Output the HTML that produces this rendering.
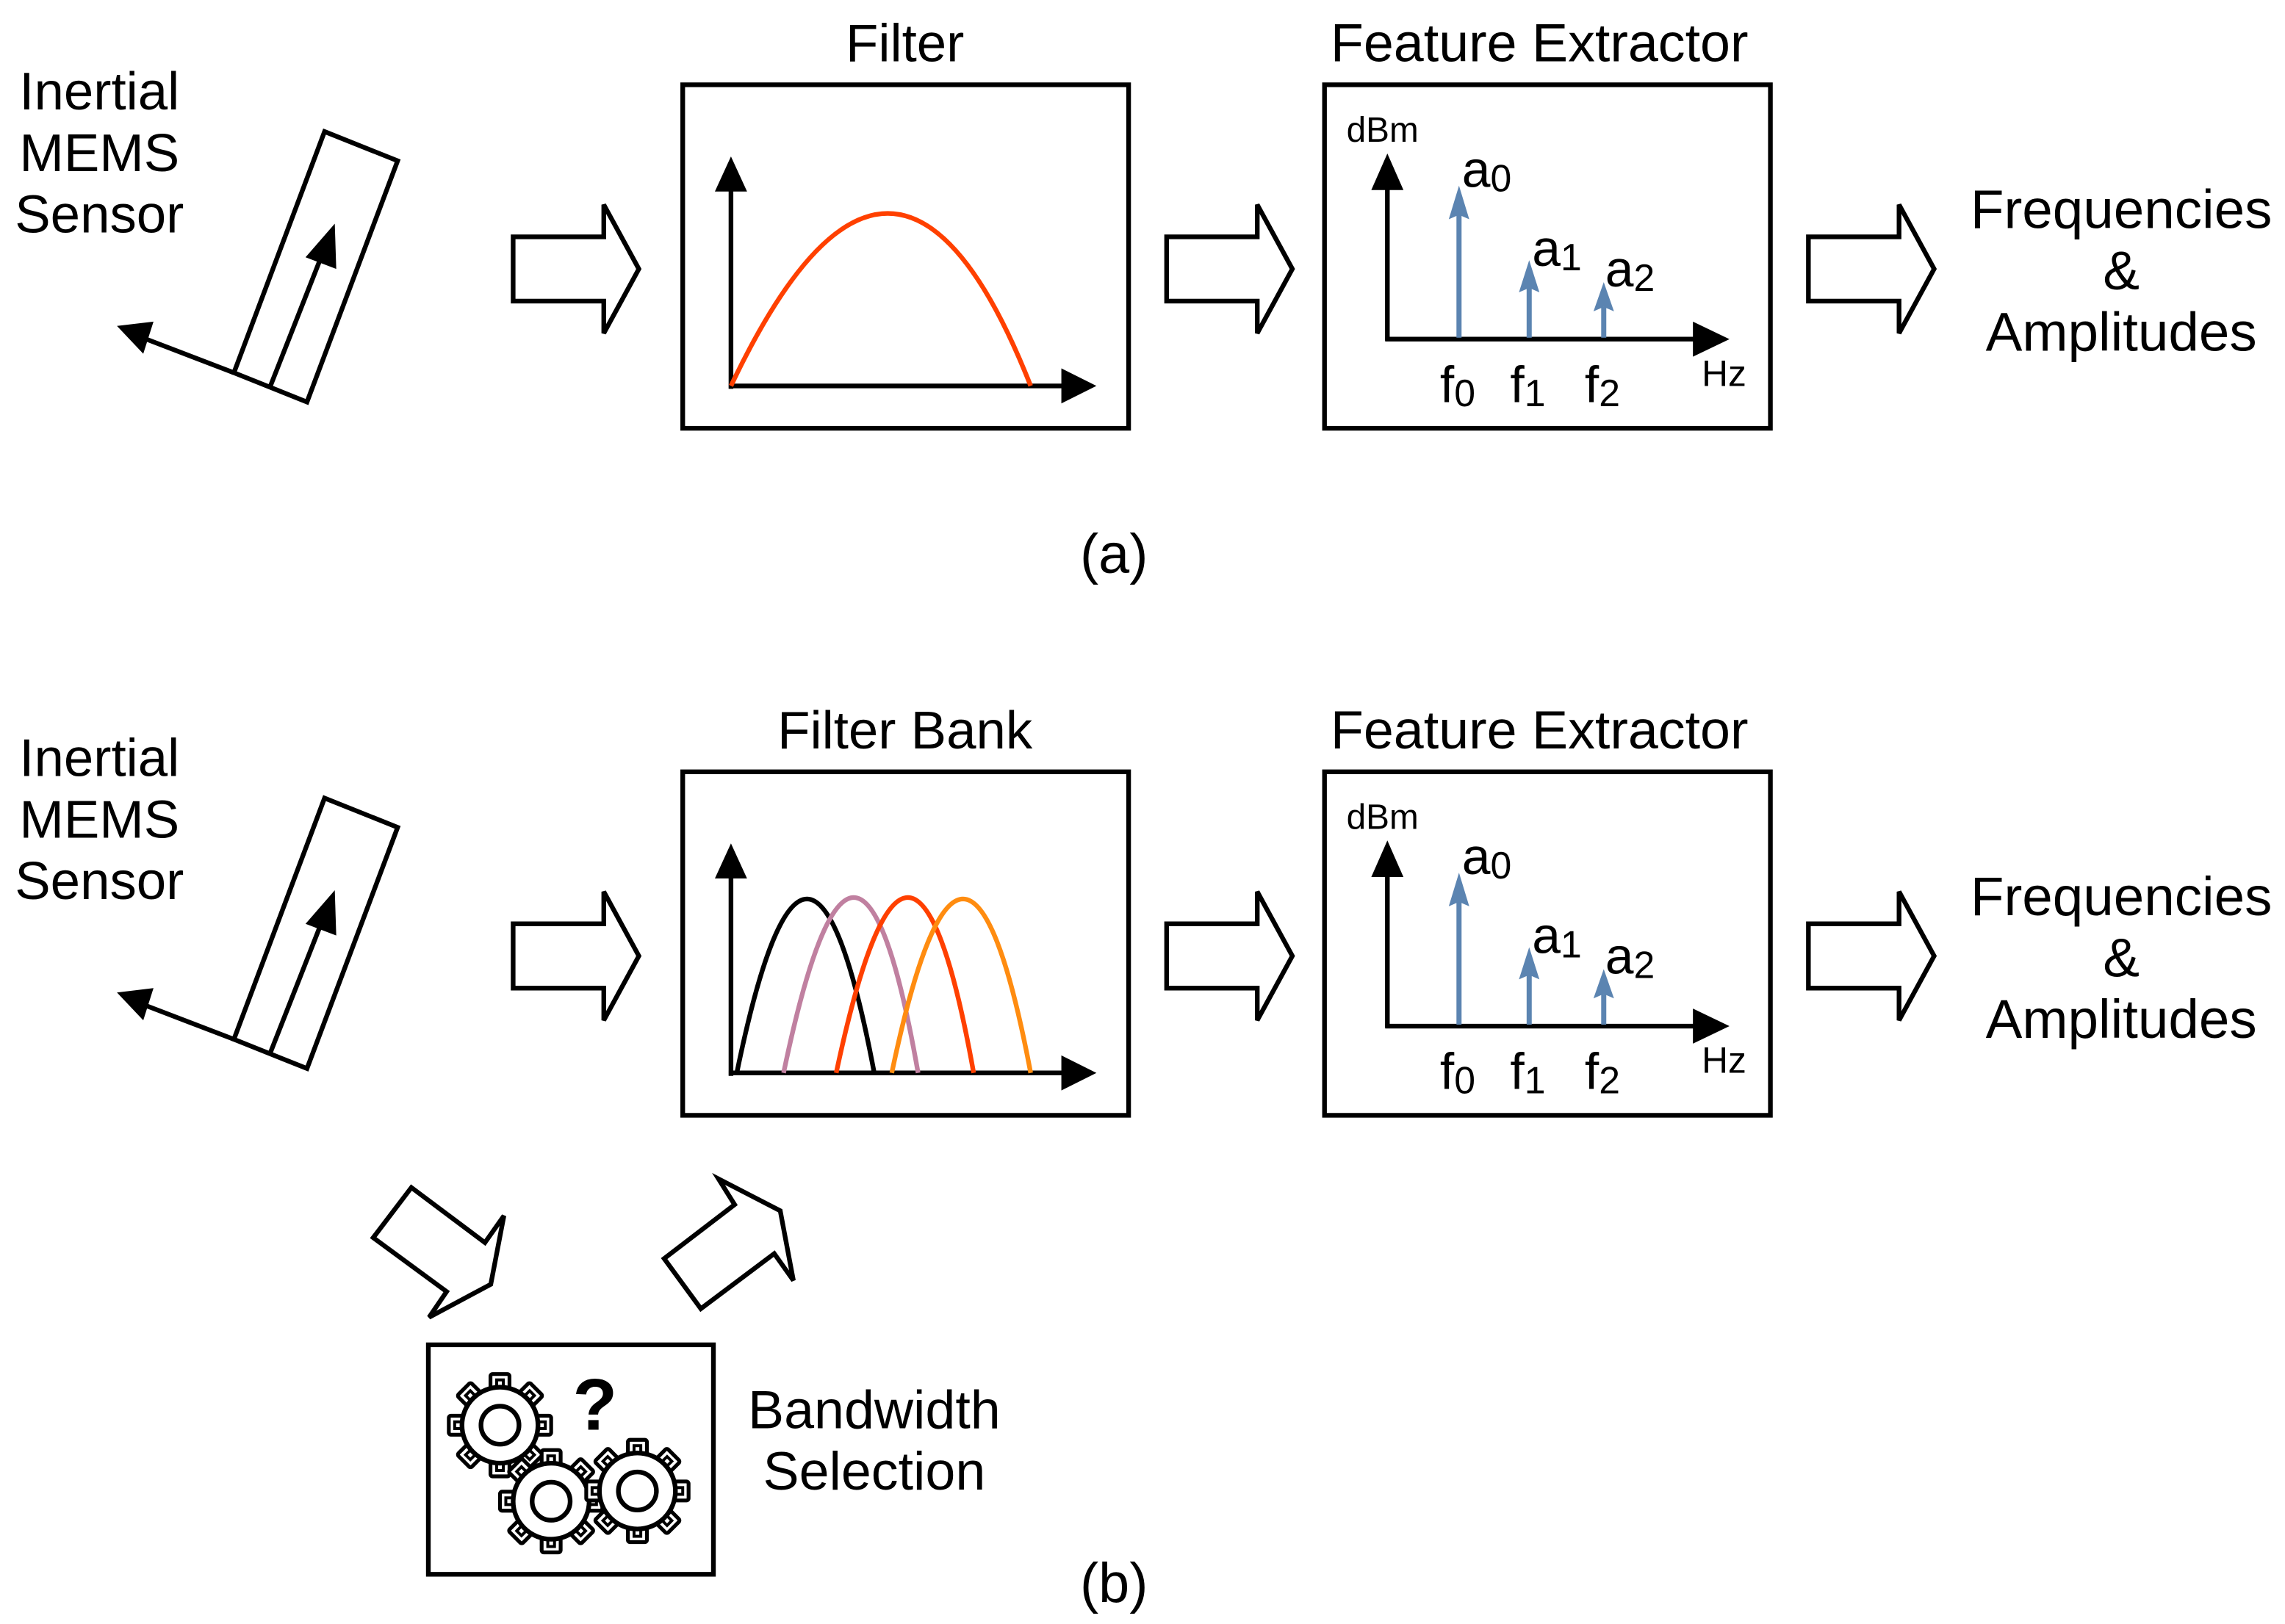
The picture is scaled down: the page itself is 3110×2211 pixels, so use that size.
<!DOCTYPE html>
<html><head><meta charset="utf-8"><style>
html,body{margin:0;padding:0;background:#fff;}
svg{display:block;}
text{font-family:"Liberation Sans",sans-serif;fill:#000;}
</style></head><body>
<svg width="3110" height="2211" viewBox="0 0 1563 1111" preserveAspectRatio="none" xmlns="http://www.w3.org/2000/svg">
<defs>
<g id="sensor">
  <polygon points="222,90 272,110 210,275 160,255" fill="none" stroke="#000" stroke-width="3.2" stroke-linejoin="miter"/>
  <line x1="185" y1="264" x2="220" y2="175" stroke="#000" stroke-width="3.2"/>
  <polygon points="229,153 230,184 209,176" fill="#000"/>
  <line x1="160" y1="255" x2="100" y2="232" stroke="#000" stroke-width="3.2"/>
  <polygon points="80,223 105,220 98,242" fill="#000"/>
  <text x="68" y="75" font-size="36.5" text-anchor="middle">Inertial</text>
  <text x="68" y="117" font-size="36.5" text-anchor="middle">MEMS</text>
  <text x="68" y="159" font-size="36.5" text-anchor="middle">Sensor</text>
</g>
<polygon id="harrow" points="0,-22 62,-22 62,-44 86,0 62,44 62,22 0,22" fill="#fff" stroke="#000" stroke-width="3.2" stroke-linejoin="miter"/>
<g id="fe">
  <rect x="906" y="58" width="305" height="235" fill="none" stroke="#000" stroke-width="3.2"/>
  <text x="1053" y="42" font-size="37" text-anchor="middle">Feature Extractor</text>
  <line x1="949" y1="233" x2="949" y2="125" stroke="#000" stroke-width="3.2"/>
  <polygon points="949,105 938,130 960,130" fill="#000"/>
  <line x1="947.5" y1="232" x2="1165" y2="232" stroke="#000" stroke-width="3.2"/>
  <polygon points="1183,232 1158,220 1158,244" fill="#000"/>
  <g stroke="#5b84b1" stroke-width="3.5" fill="#5b84b1">
    <line x1="998" y1="231" x2="998" y2="145"/>
    <line x1="1046" y1="231" x2="1046" y2="195"/>
    <line x1="1097" y1="231" x2="1097" y2="210"/>
  </g>
  <g fill="#5b84b1">
    <polygon points="998,127 991,150 998,147 1005,150"/>
    <polygon points="1046,178 1039,200 1046,197 1053,200"/>
    <polygon points="1097,193 1090,213 1097,210 1104,213"/>
  </g>
  <text x="921" y="97" font-size="24">dBm</text>
  <text x="1000" y="128" font-size="35">a<tspan font-size="26" dy="3">0</tspan></text>
  <text x="1048" y="182" font-size="35">a<tspan font-size="26" dy="3">1</tspan></text>
  <text x="1098" y="196" font-size="35">a<tspan font-size="26" dy="3">2</tspan></text>
  <text x="985" y="275" font-size="35">f<tspan font-size="26" dy="3">0</tspan></text>
  <text x="1033" y="275" font-size="35">f<tspan font-size="26" dy="3">1</tspan></text>
  <text x="1084" y="275" font-size="35">f<tspan font-size="26" dy="3">2</tspan></text>
  <text x="1164" y="264" font-size="25">Hz</text>
  <text x="1451" y="156" font-size="37.5" text-anchor="middle">Frequencies</text>
  <text x="1451" y="198" font-size="37.5" text-anchor="middle">&amp;</text>
  <text x="1451" y="240" font-size="37.5" text-anchor="middle">Amplitudes</text>
</g>
<g id="axes">
  <line x1="500" y1="266" x2="500" y2="128" stroke="#000" stroke-width="3.2"/>
  <polygon points="500,107 489,131 511,131" fill="#000"/>
  <line x1="498.5" y1="264" x2="728" y2="264" stroke="#000" stroke-width="3.2"/>
  <polygon points="750,264 726,252 726,276" fill="#000"/>
</g>
<g id="gear">
  <g fill="#fff" stroke="#000" stroke-width="2.6">
    <g id="tooth"><rect x="-6.5" y="-35" width="13" height="12" rx="1.5"/><rect x="-2.3" y="-31" width="4.6" height="4.6" stroke-width="2"/></g>
    <use href="#tooth" transform="rotate(45)"/>
    <use href="#tooth" transform="rotate(90)"/>
    <use href="#tooth" transform="rotate(135)"/>
    <use href="#tooth" transform="rotate(180)"/>
    <use href="#tooth" transform="rotate(225)"/>
    <use href="#tooth" transform="rotate(270)"/>
    <use href="#tooth" transform="rotate(315)"/>
  </g>
  <circle r="26" fill="#fff" stroke="#000" stroke-width="3.2"/>
  <circle r="13" fill="none" stroke="#000" stroke-width="3.2"/>
</g>
</defs>

<!-- (a) -->
<use href="#sensor"/>
<use href="#harrow" transform="translate(351,184)"/>
<rect x="467" y="58" width="305" height="235" fill="none" stroke="#000" stroke-width="3.2"/>
<text x="619" y="42" font-size="36.5" text-anchor="middle">Filter</text>
<use href="#axes"/>
<path d="M500,264 Q612,28 705,264" fill="none" stroke="#ff4000" stroke-width="3.2"/>
<use href="#harrow" transform="translate(798,184)"/>
<use href="#fe"/>
<use href="#harrow" transform="translate(1237,184)"/>
<text x="762" y="392" font-size="38" text-anchor="middle">(a)</text>

<!-- (b) -->
<g transform="translate(0,456)"><use href="#sensor"/></g>
<use href="#harrow" transform="translate(351,654)"/>
<rect x="467" y="528" width="305" height="235" fill="none" stroke="#000" stroke-width="3.2"/>
<text x="619" y="512" font-size="36.5" text-anchor="middle">Filter Bank</text>
<g transform="translate(0,470)"><use href="#axes"/></g>
<g fill="none" stroke-width="3.2">
  <path d="M504,734 Q553,496 598,734" stroke="#000"/>
  <path d="M536,734 Q586,494 628,734" stroke="#c080a0"/>
  <path d="M572,734 Q623,494 666,734" stroke="#ff4000"/>
  <path d="M610,734 Q660,496 705,734" stroke="#ff8c10"/>
</g>
<use href="#harrow" transform="translate(798,654)"/>
<g transform="translate(0,470)"><use href="#fe"/></g>
<use href="#harrow" transform="translate(1237,654)"/>

<polygon points="281.4,812.4 255.3,846.7 305.5,883.6 293.5,901.2 335.7,878.6 344.7,831.7 331.7,850.1" fill="#fff" stroke="#000" stroke-width="3.2"/>
<polygon points="491.5,806.5 502.5,824.1 454.3,861 479.4,895.3 529.6,857.6 542.7,876 533.7,828.3" fill="#fff" stroke="#000" stroke-width="3.2"/>

<rect x="293" y="920" width="195" height="157" fill="none" stroke="#000" stroke-width="3.2"/>
<use href="#gear" transform="translate(342,975)"/>
<use href="#gear" transform="translate(377,1027)"/>
<use href="#gear" transform="translate(436,1020)"/>
<text x="407" y="978" font-size="50" font-weight="bold" text-anchor="middle">?</text>
<text x="598" y="977" font-size="37" text-anchor="middle">Bandwidth</text>
<text x="598" y="1019" font-size="37" text-anchor="middle">Selection</text>
<text x="762" y="1096" font-size="38" text-anchor="middle">(b)</text>
</svg>
</body></html>
